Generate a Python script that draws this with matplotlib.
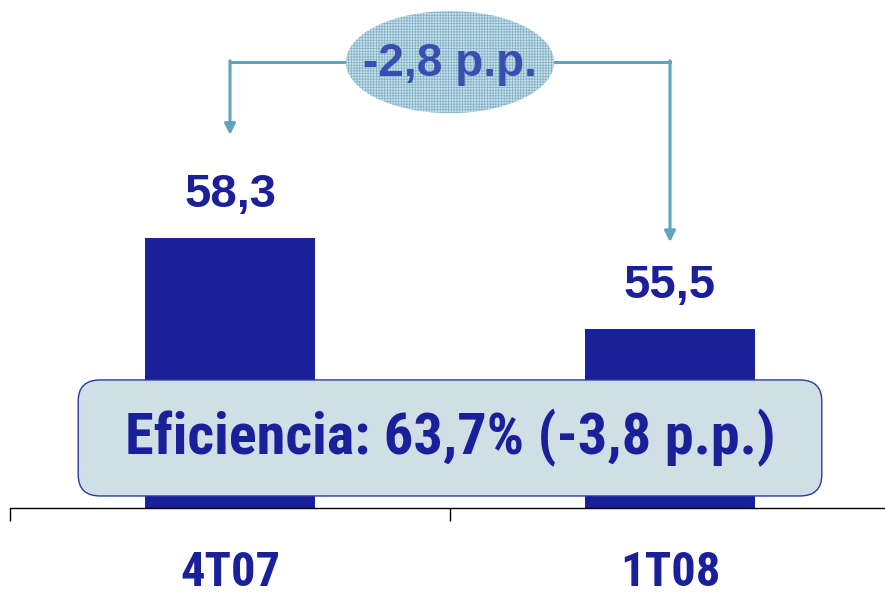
import matplotlib
matplotlib.use("Agg")
import matplotlib.pyplot as plt
from matplotlib.patches import Ellipse, FancyBboxPatch

# datos
categorias = ["4T07", "1T08"]
valores = [58.3, 55.5]
etiquetas = ["58,3", "55,5"]
variacion = "-2,8 p.p."
eficiencia = "Eficiencia: 63,7% (-3,8 p.p.)"

azul = "#1a1f9a"
flecha = "#62a2bd"
estrecha = ["Roboto Condensed", "DejaVu Sans"]

fig = plt.figure(figsize=(8.85, 6.03), dpi=100)
ax = fig.add_axes([10 / 885, 95 / 603, 880 / 885, 508 / 603])
ax.set_xlim(-0.5, 1.5)
ax.set_ylim(50, 50 + 508 / 32.5)

x = list(range(len(categorias)))
ax.bar(x, valores, width=0.386, color=azul, zorder=2)

# etiquetas de valor
for xi, v, t in zip(x, valores, etiquetas):
    ax.text(xi, v + 1.33, t, ha="center", va="center", fontsize=34,
            fontweight="bold", color=azul, family="Liberation Sans")

# ejes
for s in ["top", "right", "left"]:
    ax.spines[s].set_visible(False)
ax.spines["bottom"].set_linewidth(1.0)
ax.set_yticks([])
ax.set_xticks(x)
ax.set_xticklabels(categorias, fontsize=35, fontweight="bold", color=azul,
                   family=estrecha)
ax.tick_params(axis="x", which="major", length=0, pad=30)
ax.set_xticks([-0.5, 0.5, 1.5], minor=True)
ax.tick_params(axis="x", which="minor", length=9.5, width=1.0, direction="out")

# flechas de variacion
y_linea = 63.72
tips = [valores[0] + 3.18, valores[1] + 2.68]
ax.plot([x[0], 0.5], [y_linea, y_linea], color=flecha, lw=2.2, zorder=3)
ax.plot([0.5, x[1]], [y_linea, y_linea], color=flecha, lw=2.2, zorder=3)
for xi, tp in zip(x, tips):
    ax.annotate("", xy=(xi, tp), xytext=(xi, y_linea + 0.04),
                arrowprops=dict(arrowstyle="-|>", color=flecha, lw=2.2,
                                mutation_scale=16, shrinkA=0, shrinkB=0),
                zorder=3)

plt.rcParams["hatch.linewidth"] = 0.6
elipse = Ellipse((0.5, y_linea), 0.473, 3.14, facecolor="#cbe0ea",
                 edgecolor="#86b6ca", linewidth=0, hatch="++++++", zorder=4)
ax.add_patch(elipse)
ax.text(0.5, y_linea - 0.05, variacion, ha="center", va="center", fontsize=33,
        fontweight="bold", color="#3a4db0", family="Liberation Sans", zorder=5)

# cuadro de eficiencia
caja = FancyBboxPatch((-0.345, 50.37), 1.69, 3.57,
                      boxstyle="round,pad=0,rounding_size=0.05",
                      mutation_aspect=13,
                      facecolor="#d0dee6", edgecolor="#2a3aa0", linewidth=1.0,
                      zorder=4)
ax.add_patch(caja)
ax.text(0.5, 52.15, eficiencia, ha="center", va="center", fontsize=42,
        fontweight="bold", color=azul, family=estrecha, zorder=5)

fig.savefig("out.png", dpi=100)
